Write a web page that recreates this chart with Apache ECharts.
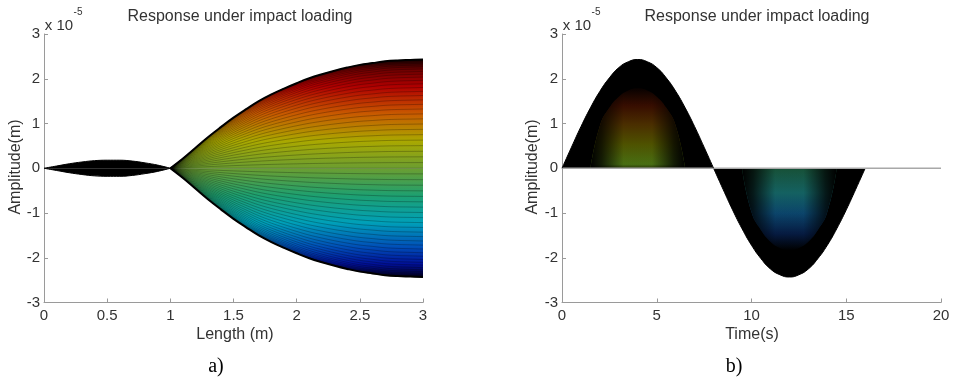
<!DOCTYPE html>
<html>
<head>
<meta charset="utf-8">
<script src="https://cdn.jsdelivr.net/npm/echarts@6/dist/echarts.min.js"></script>
<style>
html,body{margin:0;padding:0;background:#fff;}
#c{width:958px;height:379px;}
</style>
</head>
<body>
<div id="c"></div>
<script>
// ---------- data (amplitudes in units of 1e-5 m) ----------
// panel a) : envelope of the beam response along the length
const lengthX  = [0,0.1,0.2,0.3,0.4,0.5,0.6,0.7,0.8,0.9,1.0,1.1,1.2,1.3,1.4,1.5,1.6,1.7,1.8,1.9,2.0,2.1,2.2,2.3,2.4,2.5,2.6,2.7,2.8,2.9,3.0];
const envelope = [0,0.05,0.10,0.14,0.17,0.18,0.18,0.16,0.12,0.07,0,0.22,0.46,0.70,0.92,1.13,1.32,1.50,1.65,1.78,1.90,2.01,2.10,2.18,2.25,2.31,2.35,2.39,2.41,2.42,2.43];
// time-snapshot factors of the mode shape (one curve per snapshot)
const snapshotFactors = [1,0.999,0.995,0.988,0.978,0.966,0.951,0.934,0.914,0.891,0.866,0.839,0.809,0.777,0.743,0.707,0.669,0.629,0.588,0.545,0.5,0.454,0.407,0.358,0.309,0.259,0.208,0.156,0.105,0.052,0,
  -0.052,-0.105,-0.156,-0.208,-0.259,-0.309,-0.358,-0.407,-0.454,-0.5,-0.545,-0.588,-0.629,-0.669,-0.707,-0.743,-0.777,-0.809,-0.839,-0.866,-0.891,-0.914,-0.934,-0.951,-0.966,-0.978,-0.988,-0.995,-0.999,-1];
// panel b) : response in time
const timeT   = [0,0.5,1,1.5,2,2.5,3,3.5,4,4.5,5,5.5,6,6.5,7,7.5,8,8.5,9,9.5,10,10.5,11,11.5,12,12.5,13,13.5,14,14.5,15,15.5,16,16.5,17,17.5,18,18.5,19,19.5,20];
const respPeak = [0,0.47,0.93,1.35,1.72,2.02,2.25,2.38,2.43,2.38,2.25,2.02,1.72,1.35,0.93,0.47,0,
  -0.47,-0.93,-1.35,-1.72,-2.02,-2.25,-2.38,-2.43,-2.38,-2.25,-2.02,-1.72,-1.35,-0.93,-0.47,0,0,0,0,0,0,0,0,0];
const domeUpT   = [1.5,2,2.5,3,3.5,4,4.5,5,5.5,6,6.5];
const domeUp    = [0,0.95,1.35,1.6,1.74,1.79,1.74,1.6,1.35,0.95,0];
const domeDownT = [9.5,10,10.5,11,11.5,12,12.5,13,13.5,14,14.5];
const domeDown  = [0,-0.98,-1.38,-1.64,-1.78,-1.83,-1.78,-1.64,-1.38,-0.98,0];
const yTicks = [-3,-2,-1,0,1,2,3];

// ---------- build ----------
const FONT = '"Liberation Sans", Arial, sans-serif';
const grad = (stops, horiz) => new echarts.graphic.LinearGradient(0, 0, horiz ? 1 : 0, horiz ? 0 : 1,
  stops.map(s => ({offset: s[0], color: s[1]})));

const lensPts = [], mainPts = [];
lengthX.forEach((x, i) => { if (x <= 1) lensPts.push([x, envelope[i]]); if (x >= 1) mainPts.push([x, envelope[i]]); });

const axisCommon = {
  axisLine: {show: true, onZero: false, lineStyle: {color: '#9a9a9a', width: 1}},
  axisTick: {show: true, inside: true, length: 4, lineStyle: {color: '#9a9a9a'}},
  axisLabel: {color: '#333', fontSize: 15, fontFamily: FONT},
  splitLine: {show: false}
};
const yAxisDef = gi => Object.assign({}, axisCommon, {
  type: 'value', gridIndex: gi, min: yTicks[0], max: yTicks[yTicks.length - 1], interval: 1,
  axisLabel: Object.assign({}, axisCommon.axisLabel, {margin: 4})
});

const SM = 0.4;
const series = [];
// ---- panel a ----
series.push({type: 'line', xAxisIndex: 0, yAxisIndex: 0, data: mainPts, symbol: 'none', smooth: SM,
  lineStyle: {width: 0}, areaStyle: {opacity: 1, color: grad([[0,'#200000'],[0.1,'#700000'],[0.25,'#b00000'],[0.5,'#c85a00'],[0.75,'#aaa800'],[1,'#6c9e30']])}, silent: true});
series.push({type: 'line', xAxisIndex: 0, yAxisIndex: 0, data: mainPts.map(p => [p[0], -p[1]]), symbol: 'none', smooth: SM,
  lineStyle: {width: 0}, areaStyle: {opacity: 1, color: grad([[0,'#6c9e30'],[0.25,'#1ea070'],[0.5,'#00a0b8'],[0.72,'#0050b8'],[0.88,'#001098'],[1,'#000028']])}, silent: true});
snapshotFactors.forEach(f => {
  series.push({type: 'line', xAxisIndex: 0, yAxisIndex: 0, data: mainPts.map(p => [p[0], f * p[1]]), symbol: 'none', smooth: SM,
    lineStyle: {width: 0.6, color: '#000', opacity: 0.42}, silent: true});
});
[1, -1].forEach(sg => {
  series.push({type: 'line', xAxisIndex: 0, yAxisIndex: 0, data: lensPts.map(p => [p[0], sg * p[1]]), symbol: 'none', smooth: SM,
    lineStyle: {width: 1, color: '#000'}, areaStyle: {opacity: 1, color: '#000'}, silent: true});
  series.push({type: 'line', xAxisIndex: 0, yAxisIndex: 0, data: mainPts.map(p => [p[0], sg * p[1]]), symbol: 'none', smooth: SM,
    lineStyle: {width: 2, color: '#000'}, silent: true});
});

// ---- panel b ----
const posPts = [], negPts = [], zeroPts = [];
timeT.forEach((t, i) => {
  if (t <= 8) posPts.push([t, respPeak[i]]);
  if (t >= 8 && t <= 16) negPts.push([t, respPeak[i]]);
  zeroPts.push([t, 0]);
});
const fadeX = grad([[0,'rgba(0,0,0,1)'],[0.12,'rgba(0,0,0,0.75)'],[0.35,'rgba(0,0,0,0.05)'],[0.65,'rgba(0,0,0,0.05)'],[0.88,'rgba(0,0,0,0.75)'],[1,'rgba(0,0,0,1)']], true);
series.push({type: 'line', xAxisIndex: 1, yAxisIndex: 1, data: negPts, symbol: 'none', smooth: true,
  lineStyle: {width: 1, color: '#000'}, areaStyle: {opacity: 1, color: '#000'}, silent: true});
series.push({type: 'line', xAxisIndex: 1, yAxisIndex: 1, data: domeDownT.map((t, i) => [t, domeDown[i]]), symbol: 'none', smooth: true,
  lineStyle: {width: 0}, areaStyle: {opacity: 1, color: grad([[0,'#18553a'],[0.3,'#156666'],[0.55,'#0c4870'],[0.8,'#061c44'],[1,'#000']])}, silent: true});
series.push({type: 'line', xAxisIndex: 1, yAxisIndex: 1, data: domeDownT.map((t, i) => [t, domeDown[i]]), symbol: 'none', smooth: true,
  lineStyle: {width: 0}, areaStyle: {opacity: 1, color: fadeX}, silent: true});
series.push({type: 'line', xAxisIndex: 1, yAxisIndex: 1, data: zeroPts, symbol: 'none',
  lineStyle: {width: 1.5, color: '#a8a8a8'}, silent: true});
series.push({type: 'line', xAxisIndex: 1, yAxisIndex: 1, data: posPts, symbol: 'none', smooth: true,
  lineStyle: {width: 1, color: '#000'}, areaStyle: {opacity: 1, color: '#000'}, silent: true});
series.push({type: 'line', xAxisIndex: 1, yAxisIndex: 1, data: domeUpT.map((t, i) => [t, domeUp[i]]), symbol: 'none', smooth: true,
  lineStyle: {width: 0}, areaStyle: {opacity: 1, color: grad([[0,'#080100'],[0.22,'#3a0e00'],[0.45,'#4e3000'],[0.7,'#525600'],[0.95,'#4c7414'],[1,'#2a3a08']])}, silent: true});
series.push({type: 'line', xAxisIndex: 1, yAxisIndex: 1, data: domeUpT.map((t, i) => [t, domeUp[i]]), symbol: 'none', smooth: true,
  lineStyle: {width: 0}, areaStyle: {opacity: 1, color: fadeX}, silent: true});

const txt = (text, x, y, size, extra) => Object.assign({type: 'text', x: x, y: y, silent: true,
  style: Object.assign({text: text, fill: '#333', font: size + 'px ' + FONT, textAlign: 'center', textVerticalAlign: 'middle'}, (extra && extra.style) || {})},
  extra ? {rotation: extra.rotation || 0} : {});

const option = {
  animation: false,
  backgroundColor: '#fff',
  grid: [
    {left: 44, top: 34, width: 379, height: 268.5, containLabel: false},
    {left: 562, top: 34, width: 379, height: 268.5, containLabel: false}
  ],
  xAxis: [
    Object.assign({}, axisCommon, {type: 'value', gridIndex: 0, min: 0, max: 3, interval: 0.5, axisLabel: Object.assign({}, axisCommon.axisLabel, {margin: 6})}),
    Object.assign({}, axisCommon, {type: 'value', gridIndex: 1, min: 0, max: 20, interval: 5, axisLabel: Object.assign({}, axisCommon.axisLabel, {margin: 6})})
  ],
  yAxis: [yAxisDef(0), yAxisDef(1)],
  series: series,
  graphic: [
    txt('Response under impact loading', 240, 17, 16),
    txt('Response under impact loading', 757, 17, 16),
    txt('x 10', 59, 26, 15),
    txt('-5', 78, 12, 10),
    txt('x 10', 577, 26, 15),
    txt('-5', 596, 12, 10),
    txt('Amplitude(m)', 16, 167, 16, {rotation: Math.PI / 2}),
    txt('Amplitude(m)', 533, 167, 16, {rotation: Math.PI / 2}),
    txt('Length (m)', 235, 335, 16),
    txt('Time(s)', 752, 335, 16),
    {type: 'text', x: 216, y: 367, silent: true, style: {text: 'a)', fill: '#000', font: '20px "Liberation Serif", "Times New Roman", serif', textAlign: 'center', textVerticalAlign: 'middle'}},
    {type: 'text', x: 734, y: 367, silent: true, style: {text: 'b)', fill: '#000', font: '20px "Liberation Serif", "Times New Roman", serif', textAlign: 'center', textVerticalAlign: 'middle'}}
  ]
};
const chart = echarts.init(document.getElementById('c'), null, {renderer: 'canvas'});
chart.setOption(option);
</script>
</body>
</html>
